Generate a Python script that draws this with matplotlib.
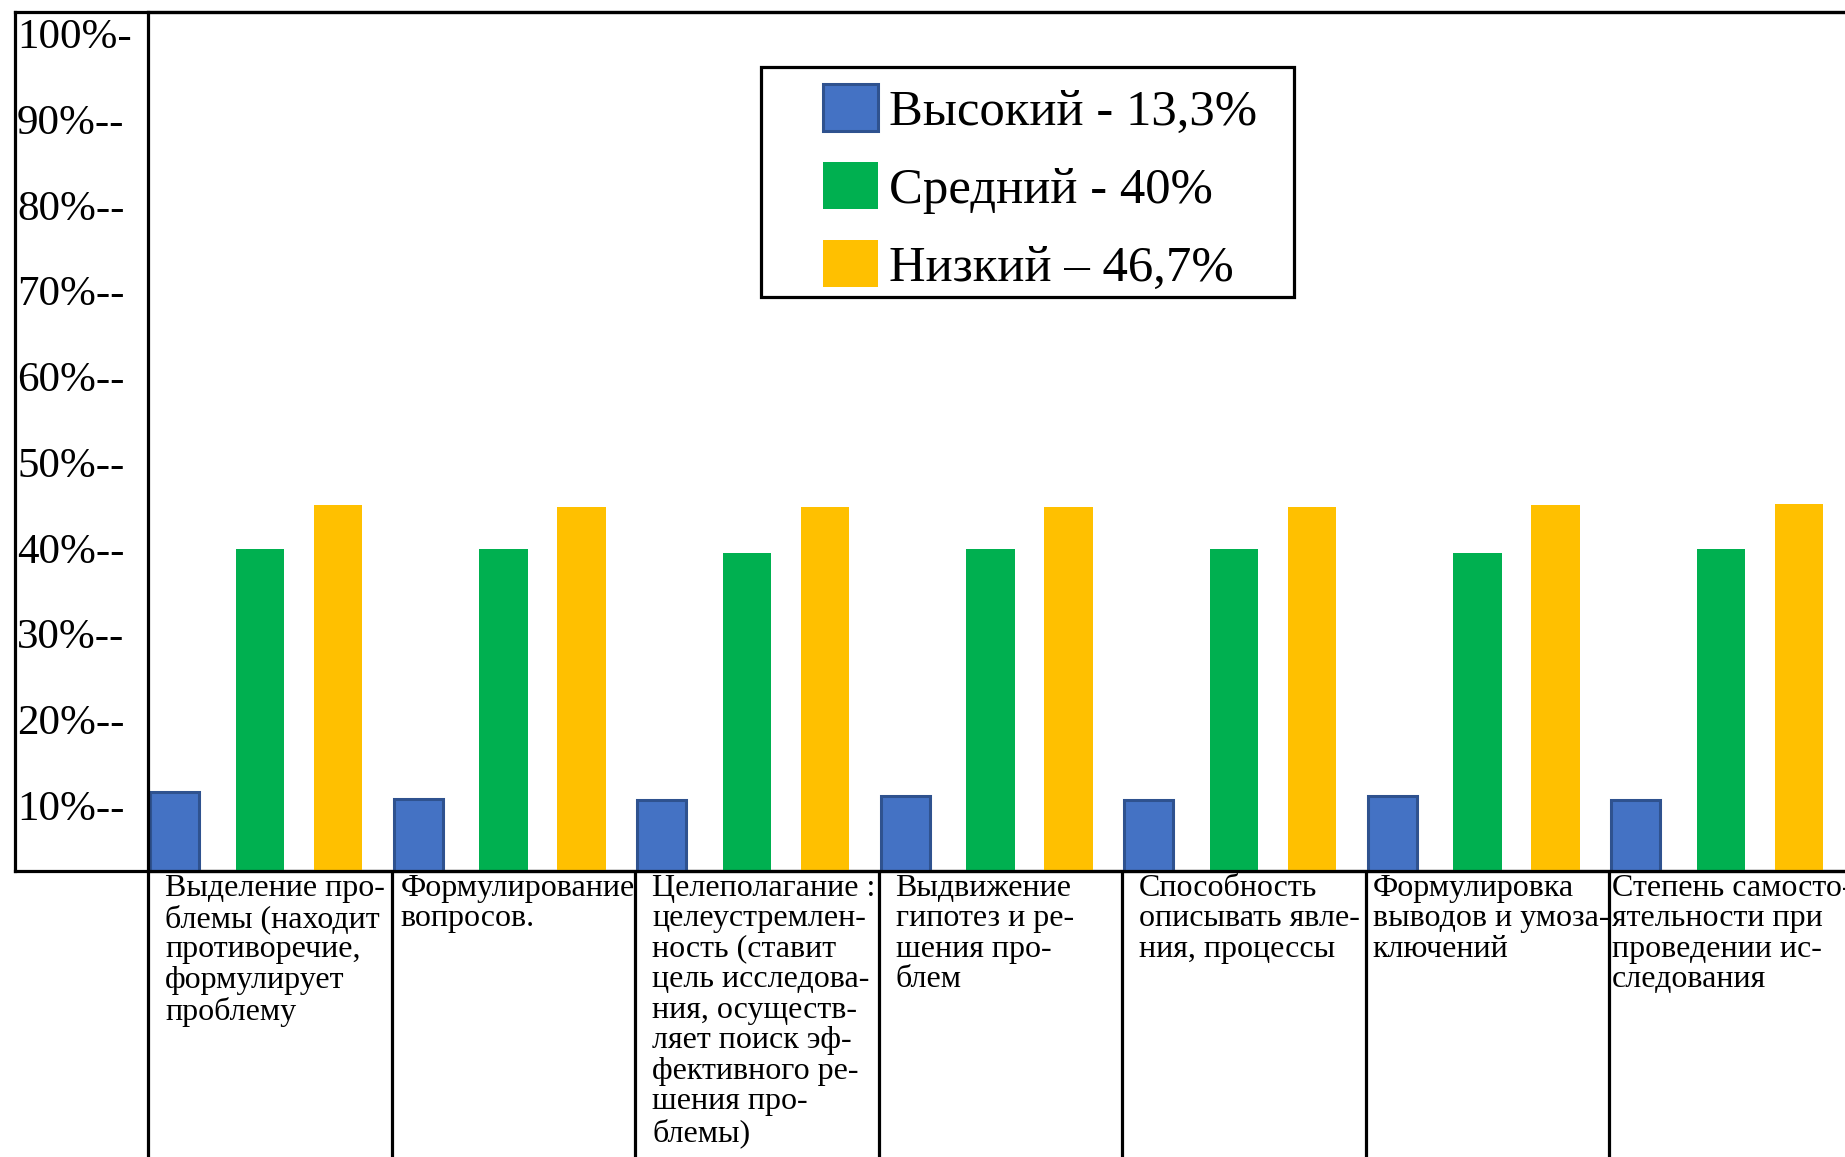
import matplotlib.pyplot as plt
import matplotlib.patches as mpatches
import matplotlib.transforms as mtransforms
import numpy as np

plt.rcParams['font.family'] = ['Liberation Serif', 'DejaVu Serif']

# categories (x-axis cells)
categories = [
    "Выделение про-\nблемы (находит\nпротиворечие,\nформулирует\nпроблему",
    "Формулирование\nвопросов.",
    "Целеполагание :\nцелеустремлен-\nность (ставит\nцель исследова-\nния, осуществ-\nляет поиск эф-\nфективного ре-\nшения про-\nблемы)",
    "Выдвижение\nгипотез и ре-\nшения про-\nблем",
    "Способность\nописывать явле-\nния, процессы",
    "Формулировка\nвыводов и умоза-\nключений",
    "Степень самосто-\nятельности при\nпроведении ис-\nследования",
]

# bar values (%)
high = [12.1, 11.3, 11.2, 11.6, 11.2, 11.6, 11.2]
medium = [40.5, 40.5, 40.0, 40.5, 40.5, 40.0, 40.5]
low = [45.6, 45.3, 45.3, 45.3, 45.3, 45.6, 45.7]

legend_labels = ["Высокий - 13,3%", "Средний - 40%", "Низкий – 46,7%"]
yticks = [10, 20, 30, 40, 50, 60, 70, 80, 90, 100]
ytick_labels = ["10%--", "20%--", "30%--", "40%--", "50%--",
                "60%--", "70%--", "80%--", "90%--", "100%-"]

W, H = 1845, 1157
fig = plt.figure(figsize=(W / 100, H / 100), dpi=100)

lw = 2.3
x_left, x_axis, x_right = 15, 148, 1852.5
y_top, y_bot = 12, 871

# outer frame (label column + plot)
fax = fig.add_axes([x_left / W, 1 - y_bot / H, (x_right - x_left) / W, (y_bot - y_top) / H])
fax.set_xticks([])
fax.set_yticks([])
for s in ['top', 'left', 'bottom']:
    fax.spines[s].set_linewidth(lw)
fax.spines['right'].set_visible(False)

ax = fig.add_axes([x_axis / W, 1 - y_bot / H, (x_right - x_axis) / W, (y_bot - y_top) / H])
ax.patch.set_alpha(0)
for s in ['top', 'left', 'bottom']:
    ax.spines[s].set_linewidth(lw)
ax.spines['right'].set_visible(False)

x = np.arange(len(categories))
bw = 0.2
b1 = ax.bar(x + 0.11, high, bw, color='#4472C4', edgecolor='#2F528F', linewidth=2.2,
            label=legend_labels[0])
b2 = ax.bar(x + 0.46, medium, bw, color='#00B050', label=legend_labels[1])
b3 = ax.bar(x + 0.78, low, bw, color='#FFC000', label=legend_labels[2])

ax.set_xlim(0, len(categories))
ax.set_ylim(2.88, 103.1)

ax.set_yticks(yticks)
ax.set_yticklabels(ytick_labels, fontsize=31)
ax.tick_params(axis='y', length=0, pad=(x_axis - 17) * 72 / 100)
shift_up = mtransforms.ScaledTranslation(0, 5 / 100, fig.dpi_scale_trans)
for t in ax.get_yticklabels():
    t.set_horizontalalignment('left')
    t.set_transform(t.get_transform() + shift_up)
ax.set_xticks([])

# cell separators below the axis
below = (H - y_bot) / (y_bot - y_top)
ax.vlines(np.arange(len(categories) + 1), -below, 0, colors='black', linewidth=lw,
          transform=ax.get_xaxis_transform(), clip_on=False)

# category texts: left aligned in each cell, pushed left when a line is too long
cell_w = (x_right - x_axis) / len(categories)
texts = []
for i, c in enumerate(categories):
    t = ax.text(i, -0.003, c, transform=ax.get_xaxis_transform(), ha='left',
                va='top', fontsize=23, linespacing=1.07, clip_on=False)
    texts.append(t)
renderer = fig.canvas.get_renderer()
for i, t in enumerate(texts):
    tw = t.get_window_extent(renderer).width
    pad = min(17, max(2, cell_w - tw))
    t.set_x(i + pad / cell_w)

# legend
fig.patches.append(mpatches.Rectangle((761 / W, 1 - 297 / H), (1294 - 761) / W, (297 - 67) / H,
                                      transform=fig.transFigure, fill=False,
                                      edgecolor='black', linewidth=lw))
fig.legend(handles=[b1, b2, b3], loc='upper left', bbox_to_anchor=(823 / W, 1 - 84 / H),
           frameon=False, borderpad=0, borderaxespad=0, fontsize=36.5,
           handlelength=1.08, handleheight=1.05, handletextpad=0.22, labelspacing=0.52)

fig.savefig('out.png', dpi=100)
